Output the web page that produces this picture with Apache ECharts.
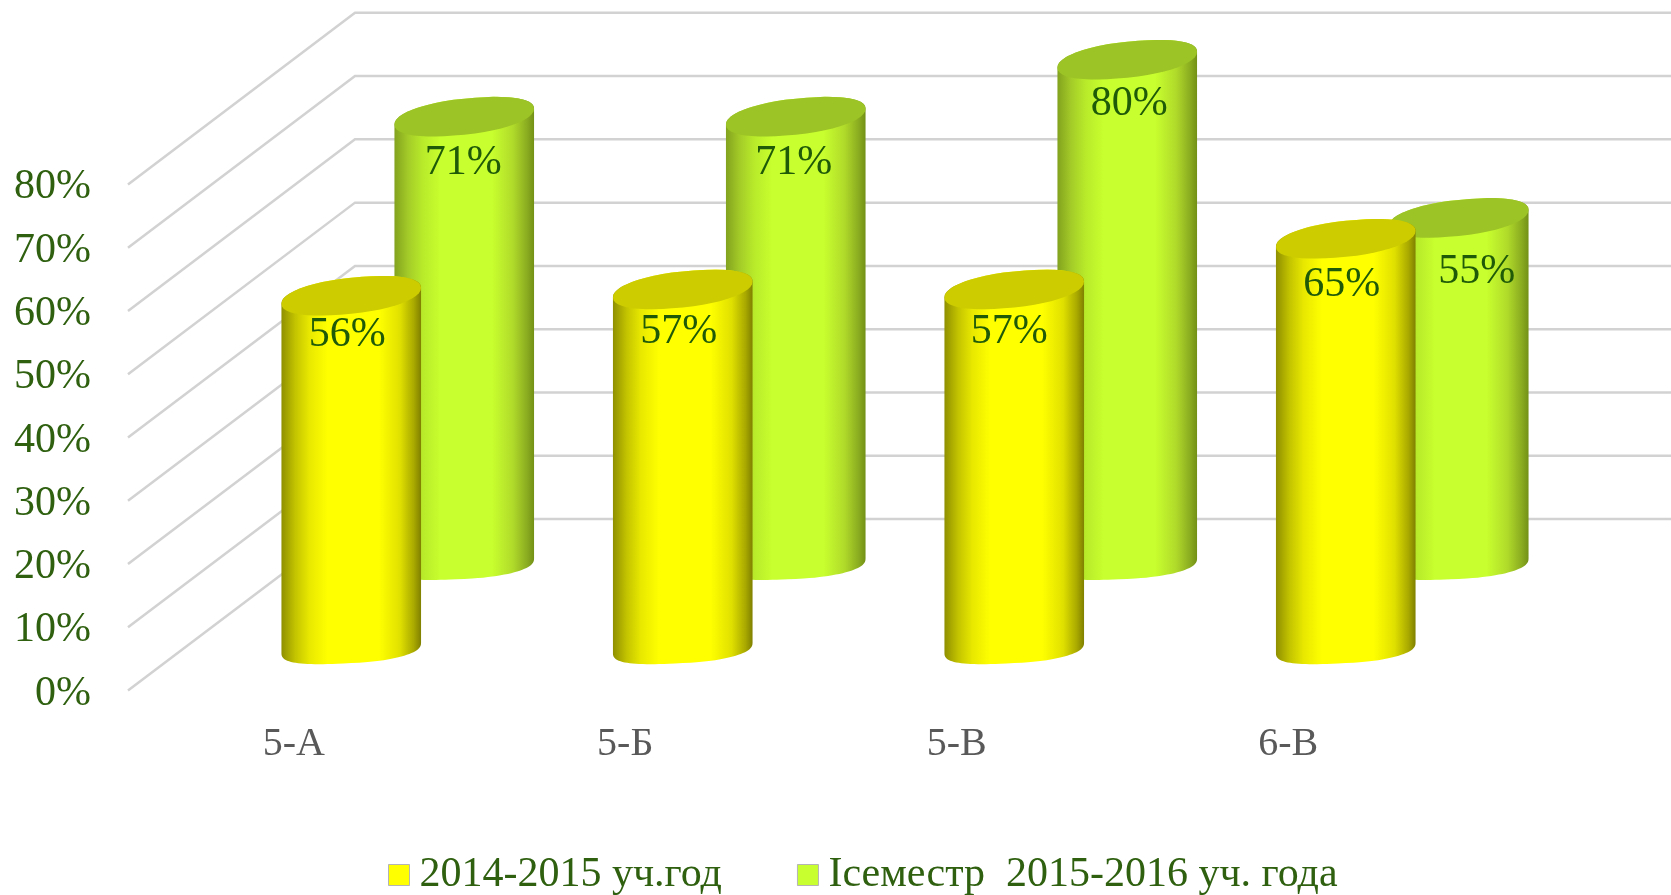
<!DOCTYPE html>
<html>
<head>
<meta charset="utf-8">
<style>
html,body{margin:0;padding:0;background:#fff;}
#chart{width:1671px;height:895px;}
</style>
<script src="https://cdn.jsdelivr.net/npm/echarts@6/dist/echarts.min.js"></script>
</head>
<body>
<div id="chart"></div>
<script>
var categories=['5-А','5-Б','5-В','6-В'];
var yearValues=[56,57,57,65];
var semesterValues=[71,71,80,55];
var yearName='2014-2015 уч.год';
var semesterName='Iсеместр  2015-2016 уч. года';
var tickValues=[0,10,20,30,40,50,60,70,80];

var FONT='"Liberation Serif"';
var GREEN_TEXT='#2f6010';
var WALL_DX=227,WALL_DY=-171.6;//смещение задней стенки
var RX=69.8;//полуширина цилиндра
var CAP={tilt:8,ry:18,power:0.92};//верхний эллипс
var FOOT={tilt:5.3,ry:15,power:0.8,lift:-2};//основание, более плоское

function ellipsePoints(cx,cy,e,from,to){
    var pts=[],n=48;
    for(var i=0;i<=n;i++){
        var t=from+(to-from)*i/n;
        var c=Math.cos(t),s=Math.sin(t);
        var cp=(c<0?-1:1)*Math.pow(Math.abs(c),e.power);
        var sp=(s<0?-1:1)*Math.pow(Math.abs(s),e.power);
        pts.push([cx+RX*cp,cy-e.tilt*c+e.ry*sp]);
    }
    return pts;
}

function sideGradient(stops){
    return new echarts.graphic.LinearGradient(0,0,1,0,stops);
}

function cylinderItem(look){
    return function(params,api){
        var idx=api.value(0),val=api.value(1);
        var top=api.coord([idx,val]),base=api.coord([idx,0]);
        var cx=base[0]+look.dx,by=base[1]+look.dy+FOOT.lift,ty=top[1]+look.dy;
        var shift=look.labelShift[idx];
        //нижняя половина основания и верхняя кромка дают боковую поверхность
        var body=ellipsePoints(cx,by,FOOT,0,Math.PI).concat(ellipsePoints(cx,ty,CAP,Math.PI,2*Math.PI));
        return {
            type:'group',
            children:[
                {type:'polygon',shape:{points:body},style:{fill:sideGradient(look.side)}},
                {type:'polygon',shape:{points:ellipsePoints(cx,ty,CAP,0,2*Math.PI)},style:{fill:look.cap}},
                {type:'text',style:{
                    x:cx-2+shift[0],y:ty+42+shift[1],text:val+'%',
                    font:'42px '+FONT,fill:'#1f5a08',
                    align:'center',verticalAlign:'middle'
                }}
            ]
        };
    };
}

function wallItem(params,api){
    var p=api.coord([0,api.value(0)]);
    var x0=params.coordSys.x;
    var back=[x0+WALL_DX,p[1]+WALL_DY];
    return {
        type:'polyline',
        shape:{points:[[x0,p[1]],back,[1671,back[1]]]},
        style:{fill:null,stroke:'#d2d2d2',lineWidth:2.5}
    };
}

var yellowLook={
    dx:57.5,dy:-40.5,cap:'#cccc00',
    labelShift:[[-2,-3],[-2,1],[-3,1],[-2,4]],
    side:[
        {offset:0,color:'#8f8f00'},{offset:0.1,color:'#c4c400'},
        {offset:0.2,color:'#e8e800'},{offset:0.33,color:'#ffff00'},
        {offset:0.7,color:'#ffff00'},{offset:0.85,color:'#e0e000'},
        {offset:0.95,color:'#a8a800'},{offset:1,color:'#808000'}
    ]
};
var greenLook={
    dx:170.5,dy:-124.7,cap:'#9cc426',
    labelShift:[[1,4],[0,4],[4,2],[20,12]],
    side:[
        {offset:0,color:'#82a21e'},{offset:0.1,color:'#a4cc28'},
        {offset:0.2,color:'#b8ea2a'},{offset:0.33,color:'#c8ff2e'},
        {offset:0.7,color:'#c8ff2e'},{offset:0.85,color:'#b0da2a'},
        {offset:0.95,color:'#8aac20'},{offset:1,color:'#739016'}
    ]
};

function toPairs(values){
    return values.map(function(v,i){return [i,v];});
}

var myChart=echarts.init(document.getElementById('chart'));
var option={
    backgroundColor:'#ffffff',
    animation:false,
    grid:{left:128,right:217,top:184.4,bottom:204.4,containLabel:false},
    legend:{
        left:383,
        top:849,
        icon:'rect',
        itemWidth:21,
        itemHeight:21,
        itemGap:75,
        itemStyle:{borderColor:'#b4b4b4',borderWidth:1},
        textStyle:{fontFamily:FONT,fontSize:42,color:GREEN_TEXT,padding:[0,0,0,5]},
        data:[yearName,semesterName]
    },
    xAxis:{
        type:'category',
        data:categories,
        axisLine:{show:false},
        axisTick:{show:false},
        axisLabel:{fontFamily:FONT,fontSize:40,color:'#595959',margin:34}
    },
    yAxis:{
        type:'value',
        min:0,
        max:80,
        interval:10,
        axisLine:{show:false},
        axisTick:{show:false},
        splitLine:{show:false},
        axisLabel:{fontFamily:FONT,fontSize:42,color:GREEN_TEXT,margin:37,verticalAlign:'top',lineHeight:6,formatter:'{value}%'}
    },
    series:[
        {
            name:'wall',
            type:'custom',
            z:1,
            silent:true,
            encode:{y:0},
            renderItem:wallItem,
            data:tickValues
        },
        {
            name:semesterName,
            type:'custom',
            z:2,
            itemStyle:{color:'#c8ff2e'},
            encode:{x:0,y:1},
            renderItem:cylinderItem(greenLook),
            data:toPairs(semesterValues)
        },
        {
            name:yearName,
            type:'custom',
            z:3,
            itemStyle:{color:'#ffff00'},
            encode:{x:0,y:1},
            renderItem:cylinderItem(yellowLook),
            data:toPairs(yearValues)
        }
    ]
};
myChart.setOption(option);
</script>
</body>
</html>
